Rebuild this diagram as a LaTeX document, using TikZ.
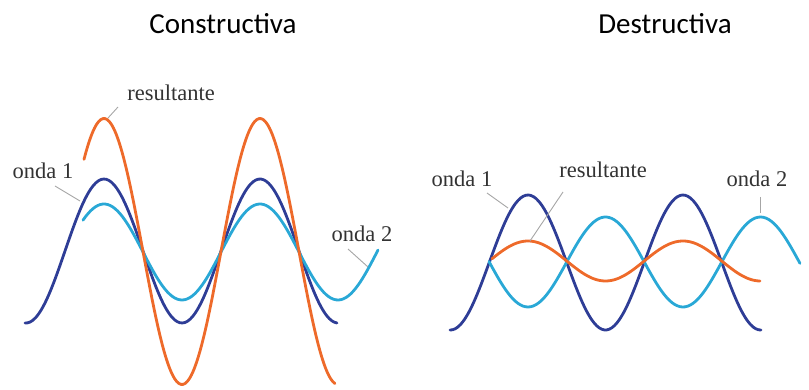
\documentclass[tikz,border=0pt]{standalone}
\usepackage{fontspec}
\setmainfont{Liberation Serif}
\newfontfamily\titlefont{Carlito}
\usepackage{xcolor}
\usepackage{tikz}
\definecolor{navywave}{HTML}{2E3D96}
\definecolor{cyanwave}{HTML}{29A8D6}
\definecolor{orangewave}{HTML}{EE6A2A}

\begin{document}
\begin{tikzpicture}[
    x=1pt, y=-1pt,
    onda1/.style={draw=navywave, line width=2.8pt, line cap=round, smooth, samples=120},
    onda2/.style={draw=cyanwave, line width=2.8pt, line cap=round, smooth, samples=120},
    resultante/.style={draw=orangewave, line width=2.8pt, line cap=round, smooth, samples=120},
    paneltitle/.style={font=\titlefont\fontsize{29}{32}\selectfont, anchor=base, inner sep=0pt},
    wavelabel/.style={font=\fontsize{22.5}{25}\selectfont, text=black!80, anchor=base, inner sep=0pt},
    leader/.style={draw=gray!70, line width=0.9pt},
]
\useasboundingbox (0,0) rectangle (809,390);

% Titles
\node[paneltitle] (constr) at (223,34) {Constructiva};
\node[paneltitle] (destr) at (665,34) {Destructiva};

% Constructiva waves
\draw[onda1, domain=25:337] plot (\x, {251 - 72*cos((\x-104)/156*360)});
\draw[onda2, domain=83:378] plot (\x, {252 - 48*cos((\x-104)/156*360)});
\draw[resultante, domain=84:335] plot (\x, {251.5 - 133*cos((\x-104)/156*360)});

% Destructiva waves
\draw[onda1, domain=450:761] plot (\x, {262.5 - 67.5*cos((\x-528)/155*360)});
\draw[onda2, domain=489:800] plot (\x, {262 + 45*cos((\x-528)/155*360)});
\draw[resultante, domain=492:760] plot (\x, {261 - 20*cos((\x-528)/155*360)});

% Labels
\node[wavelabel] (cres) at (171,101) {resultante};
\node[wavelabel] (cuno) at (43,179) {onda 1};
\node[wavelabel] (cdos) at (362,242) {onda 2};
\node[wavelabel] (duno) at (462,187) {onda 1};
\node[wavelabel] (dres) at (603,178) {resultante};
\node[wavelabel] (ddos) at (757,187) {onda 2};

% Leader lines
\coordinate (cresA) at (118,107);  \coordinate (cresB) at (108,118);
\coordinate (cunoA) at (55,186);   \coordinate (cunoB) at (80,201);
\coordinate (cdosA) at (348,249);  \coordinate (cdosB) at (368,267);
\coordinate (dunoA) at (487,193);  \coordinate (dunoB) at (508,208);
\coordinate (dresA) at (563,192);  \coordinate (dresB) at (530,241);
\coordinate (ddosA) at (760,197);  \coordinate (ddosB) at (760,213);
\draw[leader] (cresA) -- (cresB);
\draw[leader] (cunoA) -- (cunoB);
\draw[leader] (cdosA) -- (cdosB);
\draw[leader] (dunoA) -- (dunoB);
\draw[leader] (dresA) -- (dresB);
\draw[leader] (ddosA) -- (ddosB);

\end{tikzpicture}
\end{document}
